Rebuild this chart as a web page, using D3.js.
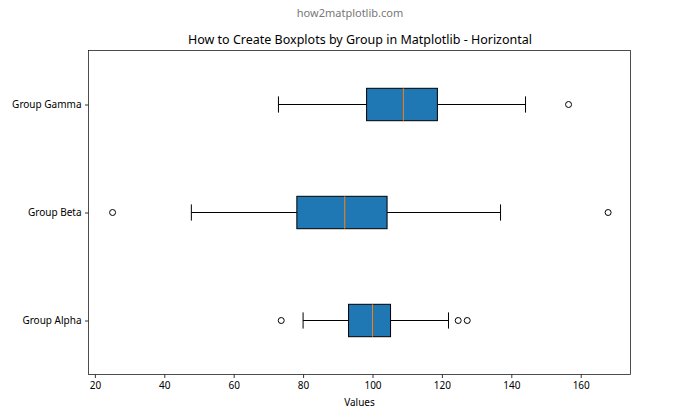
<!DOCTYPE html>
<html>
<head>
<meta charset="utf-8">
<script src="https://cdn.jsdelivr.net/npm/d3@7"></script>
<style>
  body { margin: 0; background: #fff; }
  svg { display: block; font-family: "Noto Sans", "Open Sans", sans-serif; }
</style>
</head>
<body>
<div id="chart"></div>
<script>
// groups, bottom to top as matplotlib draws them
const groups = ["Group Alpha", "Group Beta", "Group Gamma"];
// five-number summaries: [lowCap, q1, median, q3, highCap]
const stats = [
  [80.0, 93.1, 100.0, 105.2, 121.9],
  [47.8, 78.2, 92.0, 104.2, 136.9],
  [72.9, 98.3, 108.9, 118.7, 144.1]
];
const outliers = [
  [73.7, 124.7, 127.3],
  [25.1, 167.9],
  [156.5]
];
const xTicks = [20, 40, 60, 80, 100, 120, 140, 160];

const width = 700, height = 420;
const margin = { top: 50.5, right: 70, bottom: 46, left: 88.5 };
const iw = 630.5 - margin.left, ih = 374.5 - margin.top;

const svg = d3.select("#chart").append("svg")
  .attr("width", width)
  .attr("height", height);

svg.append("text")
  .attr("x", 350).attr("y", 17)
  .attr("text-anchor", "middle")
  .attr("fill", "#777")
  .style("font-size", "11px")
  .text("how2matplotlib.com");

svg.append("text")
  .attr("x", 360).attr("y", 44)
  .attr("text-anchor", "middle")
  .attr("fill", "#000")
  .style("font-size", "12.5px")
  .text("How to Create Boxplots by Group in Matplotlib - Horizontal");

const x = d3.scaleLinear().domain([18.16, 174.35]).range([0, iw]);
const y = d3.scaleLinear().domain([0.5, 3.5]).range([ih, 0]);

const g = svg.append("g").attr("transform", `translate(${margin.left},${margin.top})`);

const boxH = y(1) - y(1.3);   // widths 0.3
const capH = y(1) - y(1.15);

groups.forEach((name, i) => {
  const [lo, q1, med, q3, hi] = stats[i];
  const cy = y(i + 1);
  const bg = g.append("g");

  bg.append("line")
    .attr("x1", x(lo)).attr("x2", x(q1)).attr("y1", cy).attr("y2", cy)
    .attr("stroke", "#000").attr("stroke-width", 1);
  bg.append("line")
    .attr("x1", x(q3)).attr("x2", x(hi)).attr("y1", cy).attr("y2", cy)
    .attr("stroke", "#000").attr("stroke-width", 1);
  [lo, hi].forEach(v => {
    bg.append("line")
      .attr("x1", x(v)).attr("x2", x(v))
      .attr("y1", cy - capH / 2).attr("y2", cy + capH / 2)
      .attr("stroke", "#000").attr("stroke-width", 1);
  });

  bg.append("rect")
    .attr("x", x(q1)).attr("y", cy - boxH / 2)
    .attr("width", x(q3) - x(q1)).attr("height", boxH)
    .attr("fill", "#1f77b4")
    .attr("stroke", "#000").attr("stroke-width", 1);

  bg.append("line")
    .attr("x1", x(med)).attr("x2", x(med))
    .attr("y1", cy - boxH / 2).attr("y2", cy + boxH / 2)
    .attr("stroke", "#ff7f0e").attr("stroke-width", 1);

  bg.selectAll("circle")
    .data(outliers[i])
    .join("circle")
    .attr("cx", d => x(d)).attr("cy", cy)
    .attr("r", 3)
    .attr("fill", "none")
    .attr("stroke", "#000").attr("stroke-width", 1);
});

// axes
const xAxis = g.append("g")
  .attr("transform", `translate(0,${ih})`)
  .call(d3.axisBottom(x).tickValues(xTicks).tickSize(3.5).tickPadding(3.5).tickFormat(d3.format("d")));
const yAxis = g.append("g")
  .call(d3.axisLeft(y).tickValues([1, 2, 3]).tickSize(3.5).tickPadding(3.5).tickFormat(d => groups[d - 1]));

[xAxis, yAxis].forEach(a => {
  a.select(".domain").remove();
  a.selectAll("text").style("font-size", "10px").style("font-family", "\"Noto Sans\", sans-serif").attr("fill", "#000");
  a.selectAll("line").attr("stroke", "#000").attr("stroke-width", 0.8);
});

g.append("rect")
  .attr("width", iw).attr("height", ih)
  .attr("fill", "none")
  .attr("stroke", "#222").attr("stroke-width", 0.8);

svg.append("text")
  .attr("x", margin.left + iw / 2).attr("y", 406)
  .attr("text-anchor", "middle")
  .style("font-size", "10px")
  .text("Values");
</script>
</body>
</html>
